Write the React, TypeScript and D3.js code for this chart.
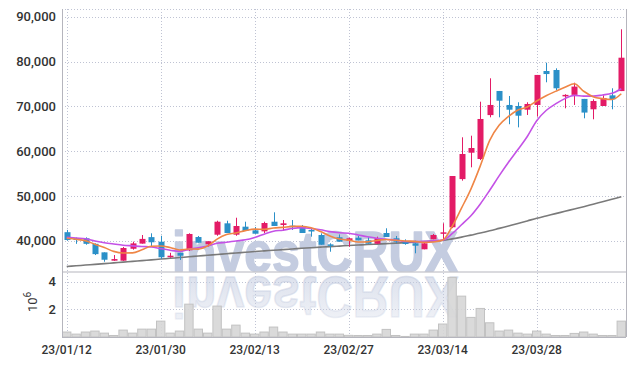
import React, { useEffect, useRef } from 'react';
import * as d3 from 'd3';

const dates = [
  '23/01/12', '23/01/13', '23/01/16', '23/01/17', '23/01/18', '23/01/19', '23/01/20', '23/01/25', '23/01/26', '23/01/27',
  '23/01/30', '23/01/31', '23/02/01', '23/02/02', '23/02/03', '23/02/06', '23/02/07', '23/02/08', '23/02/09', '23/02/10',
  '23/02/13', '23/02/14', '23/02/15', '23/02/16', '23/02/17', '23/02/20', '23/02/21', '23/02/22', '23/02/23', '23/02/24',
  '23/02/27', '23/02/28', '23/03/02', '23/03/03', '23/03/06', '23/03/07', '23/03/08', '23/03/09', '23/03/10', '23/03/13',
  '23/03/14', '23/03/15', '23/03/16', '23/03/17', '23/03/20', '23/03/21', '23/03/22', '23/03/23', '23/03/24', '23/03/27',
  '23/03/28', '23/03/29', '23/03/30', '23/03/31', '23/04/03', '23/04/04', '23/04/05', '23/04/06', '23/04/07', '23/04/10',
];

const opens = [
  41900, 40550, 40550, 39300, 37400, 35540, 35540, 38200, 39350, 40800,
  39780, 36430, 37300, 37860, 40820, 39200, 41340, 43880, 41340, 43130,
  42320, 42090, 44240, 43510, 43350, 43130, 42390, 41270, 39180, 40760,
  40000, 40670, 40090, 39330, 41720, 40540, 39650, 39420, 38080, 40310,
  41720, 43000, 53750, 59640, 58240, 68040, 73420, 70300, 70070, 69240,
  70300, 77880, 78100, 72400, 72550, 71650, 69330, 70070, 72450, 73400,
];
const highs = [
  42400, 40700, 40750, 39400, 37400, 36800, 38600, 39780, 41270, 41650,
  41100, 37300, 37300, 41650, 41050, 39870, 44460, 44460, 45130, 44240,
  43060, 44240, 46340, 44620, 44620, 43500, 42770, 41650, 39420, 41400,
  40670, 41050, 40760, 40900, 42770, 41050, 40300, 40000, 39650, 41500,
  43900, 54440, 63080, 63440, 71030, 76250, 73420, 72300, 70900, 70900,
  77000, 79730, 78480, 72700, 75270, 71650, 71560, 72450, 74020, 87190,
];
const lows = [
  40000, 39300, 39100, 36800, 35300, 35500, 35500, 38000, 39350, 38800,
  35900, 36200, 35700, 37700, 39550, 38660, 41100, 41720, 41100, 42170,
  41560, 41720, 43280, 42170, 42390, 41720, 40900, 39100, 37540, 39780,
  38660, 40090, 39330, 39330, 40830, 39500, 39100, 37190, 38080, 40310,
  40310, 42800, 53400, 56380, 58000, 67540, 67540, 66000, 65300, 68060,
  67700, 75360, 73640, 69550, 70300, 67320, 67100, 70070, 69330, 73400,
];
const closes = [
  40150, 40150, 39300, 37000, 35750, 35900, 38370, 39400, 40400, 39650,
  36300, 36650, 36650, 41500, 39550, 39870, 44240, 41720, 43280, 42170,
  41560, 43950, 43280, 43880, 43280, 41720, 42240, 39100, 39000, 39780,
  40540, 40090, 39330, 40540, 40830, 39780, 39260, 38880, 39420, 41270,
  41870, 54440, 59350, 60690, 67170, 70300, 71250, 69240, 67900, 70520,
  77000, 77200, 74020, 72550, 74400, 68600, 71180, 71860, 71560, 80850,
];
// volume in millions of shares
const volumes = [
  0.36, 0.21, 0.36, 0.43, 0.28, 0.11, 0.50, 0.28, 0.57, 0.57,
  1.15, 0.28, 0.43, 2.38, 0.57, 0.28, 2.24, 0.57, 0.86, 0.28,
  0.21, 0.36, 0.72, 0.36, 0.21, 0.21, 0.21, 0.36, 0.21, 0.21,
  0.12, 0.11, 0.11, 0.21, 0.55, 0.11, 0.04, 0.21, 0.21, 0.50,
  0.94, 4.32, 2.96, 1.42, 2.07, 1.03, 0.43, 0.50, 0.28, 0.21,
  0.43, 0.21, 0.11, 0.11, 0.26, 0.36, 0.21, 0.11, 0.11, 1.15,
];
const ma5 = [
  40540, 40310, 40000, 39200, 38470, 37620, 37264, 37284, 37964, 38744,
  38824, 38480, 37930, 38150, 38130, 38844, 40362, 41376, 41732, 42256,
  42594, 42536, 42848, 42968, 43190, 43222, 42880, 42044, 41068, 40368,
  40132, 39702, 39748, 40056, 40266, 40114, 39948, 39858, 39634, 39722,
  40140, 43176, 47270, 51524, 56704, 62390, 65752, 67730, 69172, 69842,
  71182, 72372, 73328, 74258, 75034, 73354, 72150, 71718, 71520, 72810,
];
const ma10 = [
  40760, 40600, 40450, 39930, 39550, 39260, 39000, 38850, 38700, 38607,
  38222, 37872, 37607, 38057, 38437, 38834, 39421, 39653, 39941, 40193,
  40719, 41449, 42112, 42350, 42723, 42908, 42708, 42446, 42018, 41779,
  41677, 41291, 40896, 40562, 40317, 40123, 39825, 39803, 39845, 39994,
  40127, 41562, 43564, 45579, 48213, 51265, 54464, 57500, 60348, 63273,
  66786, 69062, 70529, 71715, 72438, 72268, 72261, 72523, 72889, 73922,
];
const ma60 = [
  34240, 34400, 34560, 34720, 34880, 35050, 35220, 35390, 35560, 35730,
  35900, 36070, 36240, 36410, 36580, 36750, 36920, 37090, 37260, 37420,
  37590, 37730, 37870, 38010, 38150, 38300, 38430, 38560, 38680, 38800,
  38930, 39040, 39140, 39240, 39350, 39450, 39570, 39690, 39810, 39930,
  40050, 40400, 40800, 41250, 41700, 42200, 42750, 43300, 43850, 44420,
  45000, 45520, 46040, 46560, 47080, 47600, 48150, 48700, 49250, 49800,
];
const priceTicks = [40000, 50000, 60000, 70000, 80000, 90000];
const volumeTicks = [2, 4];

const W = 635;
const H = 366;
const UP = '#e31b66';
const DOWN = '#2b90c8';
const GRID = '#bfc3d3';
const WM = '#c4cce0';

export default function App() {
  const svgRef = useRef<SVGSVGElement>(null);

  useEffect(() => {
    if (!svgRef.current) return;
    const svg = d3.select(svgRef.current);
    svg.selectAll('*').remove();

    const left = 62, right = 626;
    const pTop = 9, pBottom = 271.5;
    const vTop = 272, vBottom = 337;

    const x = d3.scaleBand<number>().domain(d3.range(dates.length)).range([left, right]);
    const cx = (i: number) => (x(i) as number) + x.bandwidth() / 2;
    const y = d3.scaleLinear().domain([33125, 91720]).range([pBottom, pTop]);
    const yv = d3.scaleLinear().domain([0, 4.71]).range([vBottom, vTop]);

    const defs = svg.append('defs');
    defs.append('clipPath').attr('id', 'price-clip')
      .append('rect').attr('x', left).attr('y', pTop).attr('width', right - left).attr('height', pBottom - pTop);
    defs.append('clipPath').attr('id', 'vol-clip')
      .append('rect').attr('x', left).attr('y', vTop).attr('width', right - left).attr('height', vBottom - vTop);
    const fade = defs.append('linearGradient').attr('id', 'wm-fade')
      .attr('x1', 0).attr('y1', 0).attr('x2', 0).attr('y2', 1);
    fade.append('stop').attr('offset', '0%').attr('stop-color', WM).attr('stop-opacity', 0.2);
    fade.append('stop').attr('offset', '100%').attr('stop-color', WM).attr('stop-opacity', 0.65);

    // grid
    const grid = svg.append('g').attr('stroke', GRID).attr('stroke-width', 1).attr('stroke-dasharray', '1,2');
    grid.append('line').attr('x1', left).attr('x2', right).attr('y1', pTop + 0.5).attr('y2', pTop + 0.5);
    priceTicks.forEach(t => {
      const yy = Math.round(y(t)) + 0.5;
      grid.append('line').attr('x1', left).attr('x2', right).attr('y1', yy).attr('y2', yy);
    });
    volumeTicks.forEach(t => {
      const yy = Math.round(yv(t)) + 0.5;
      grid.append('line').attr('x1', left).attr('x2', right).attr('y1', yy).attr('y2', yy);
    });
    dates.forEach((_, i) => {
      if (i % 10 !== 0) return;
      const xx = Math.round(cx(i)) + 0.5;
      grid.append('line').attr('x1', xx).attr('x2', xx).attr('y1', pTop).attr('y2', vBottom);
    });

    // watermark + its reflection
    const wm = (g: d3.Selection<SVGGElement, unknown, null, undefined>) =>
      g.append('text')
        .attr('x', 172).attr('y', 272)
        .attr('textLength', 286).attr('lengthAdjust', 'spacingAndGlyphs')
        .attr('font-family', 'Liberation Sans, Arial, sans-serif')
        .attr('font-weight', 'bold').attr('font-size', 58)
        .attr('stroke-width', 1.6).attr('stroke-linejoin', 'round')
        .text('investCRUX');
    wm(svg.append('g').attr('clip-path', 'url(#price-clip)')).attr('fill', WM).attr('stroke', WM);
    wm(svg.append('g').attr('clip-path', 'url(#vol-clip)')
      .append('g').attr('transform', 'translate(0,549) scale(1,-1)'))
      .attr('fill', 'url(#wm-fade)').attr('stroke', 'url(#wm-fade)');

    // volume
    svg.append('g').selectAll('rect').data(volumes).enter().append('rect')
      .attr('x', (_, i) => (x(i) as number) + 0.5)
      .attr('width', x.bandwidth() - 1)
      .attr('y', d => yv(d))
      .attr('height', d => vBottom - yv(d))
      .attr('fill', '#d6d6d6').attr('fill-opacity', 0.9)
      .attr('stroke', '#c2c2c2').attr('stroke-width', 1);

    // frame
    const frame = svg.append('g').attr('stroke', '#b5b5bd').attr('stroke-width', 1);
    frame.append('line').attr('x1', left + 0.5).attr('x2', left + 0.5).attr('y1', pTop).attr('y2', vBottom);
    frame.append('line').attr('x1', right + 0.5).attr('x2', right + 0.5).attr('y1', pTop).attr('y2', vBottom);
    frame.append('line').attr('x1', left).attr('x2', right).attr('y1', pBottom + 0.5).attr('y2', pBottom + 0.5);
    frame.append('line').attr('x1', left).attr('x2', right).attr('y1', vBottom + 0.5).attr('y2', vBottom + 0.5);

    const price = svg.append('g').attr('clip-path', 'url(#price-clip)');
    const line = d3.line<number>().x((_, i) => cx(i)).y(d => y(d)).curve(d3.curveMonotoneX);

    price.append('path').datum(ma60).attr('fill', 'none').attr('stroke', '#7a7a7a')
      .attr('stroke-width', 1.6).attr('d', line);

    // candles
    const candles = price.append('g').selectAll('g').data(d3.range(dates.length)).enter().append('g')
      .attr('fill', i => (closes[i] >= opens[i] ? UP : DOWN))
      .attr('stroke', i => (closes[i] >= opens[i] ? UP : DOWN));
    candles.append('line')
      .attr('x1', i => Math.round(cx(i)) + 0.5).attr('x2', i => Math.round(cx(i)) + 0.5)
      .attr('y1', i => y(highs[i])).attr('y2', i => y(lows[i]))
      .attr('stroke-width', 1);
    candles.append('rect')
      .attr('x', i => Math.round(cx(i)) - 2.5)
      .attr('width', 6)
      .attr('y', i => y(Math.max(opens[i], closes[i])))
      .attr('height', i => Math.max(1.5, Math.abs(y(opens[i]) - y(closes[i]))))
      .attr('stroke', 'none');

    price.append('path').datum(ma10).attr('fill', 'none').attr('stroke', '#c452e6')
      .attr('stroke-width', 1.6).attr('d', line);
    price.append('path').datum(ma5).attr('fill', 'none').attr('stroke', '#ef8646')
      .attr('stroke-width', 1.6).attr('d', line);

    // axis labels
    const font = 'Roboto, sans-serif';
    const axis = svg.append('g').attr('font-family', font).attr('font-weight', 500).attr('fill', '#333');
    priceTicks.forEach(t => {
      axis.append('text').attr('x', 56).attr('y', y(t)).attr('dy', '0.36em')
        .attr('text-anchor', 'end').attr('font-size', 13).text(d3.format(',')(t));
    });
    volumeTicks.forEach(t => {
      axis.append('text').attr('x', 56).attr('y', yv(t)).attr('dy', '0.36em')
        .attr('text-anchor', 'end').attr('font-size', 13).text(String(t));
    });
    const exp = axis.append('text').attr('transform', 'translate(37,312) rotate(-90)')
      .attr('font-size', 13).attr('font-weight', 400);
    exp.append('tspan').text('10');
    exp.append('tspan').attr('dy', -6).attr('font-size', 10).text('6');
    dates.forEach((d, i) => {
      if (i % 10 !== 0) return;
      axis.append('text').attr('x', cx(i)).attr('y', 353.5).attr('text-anchor', 'middle')
        .attr('font-size', 12).text(d);
    });
  }, []);

  return (
    <svg ref={svgRef} width={W} height={H}
      style={{ position: 'absolute', left: 0, top: 0, background: '#fff' }} />
  );
}
